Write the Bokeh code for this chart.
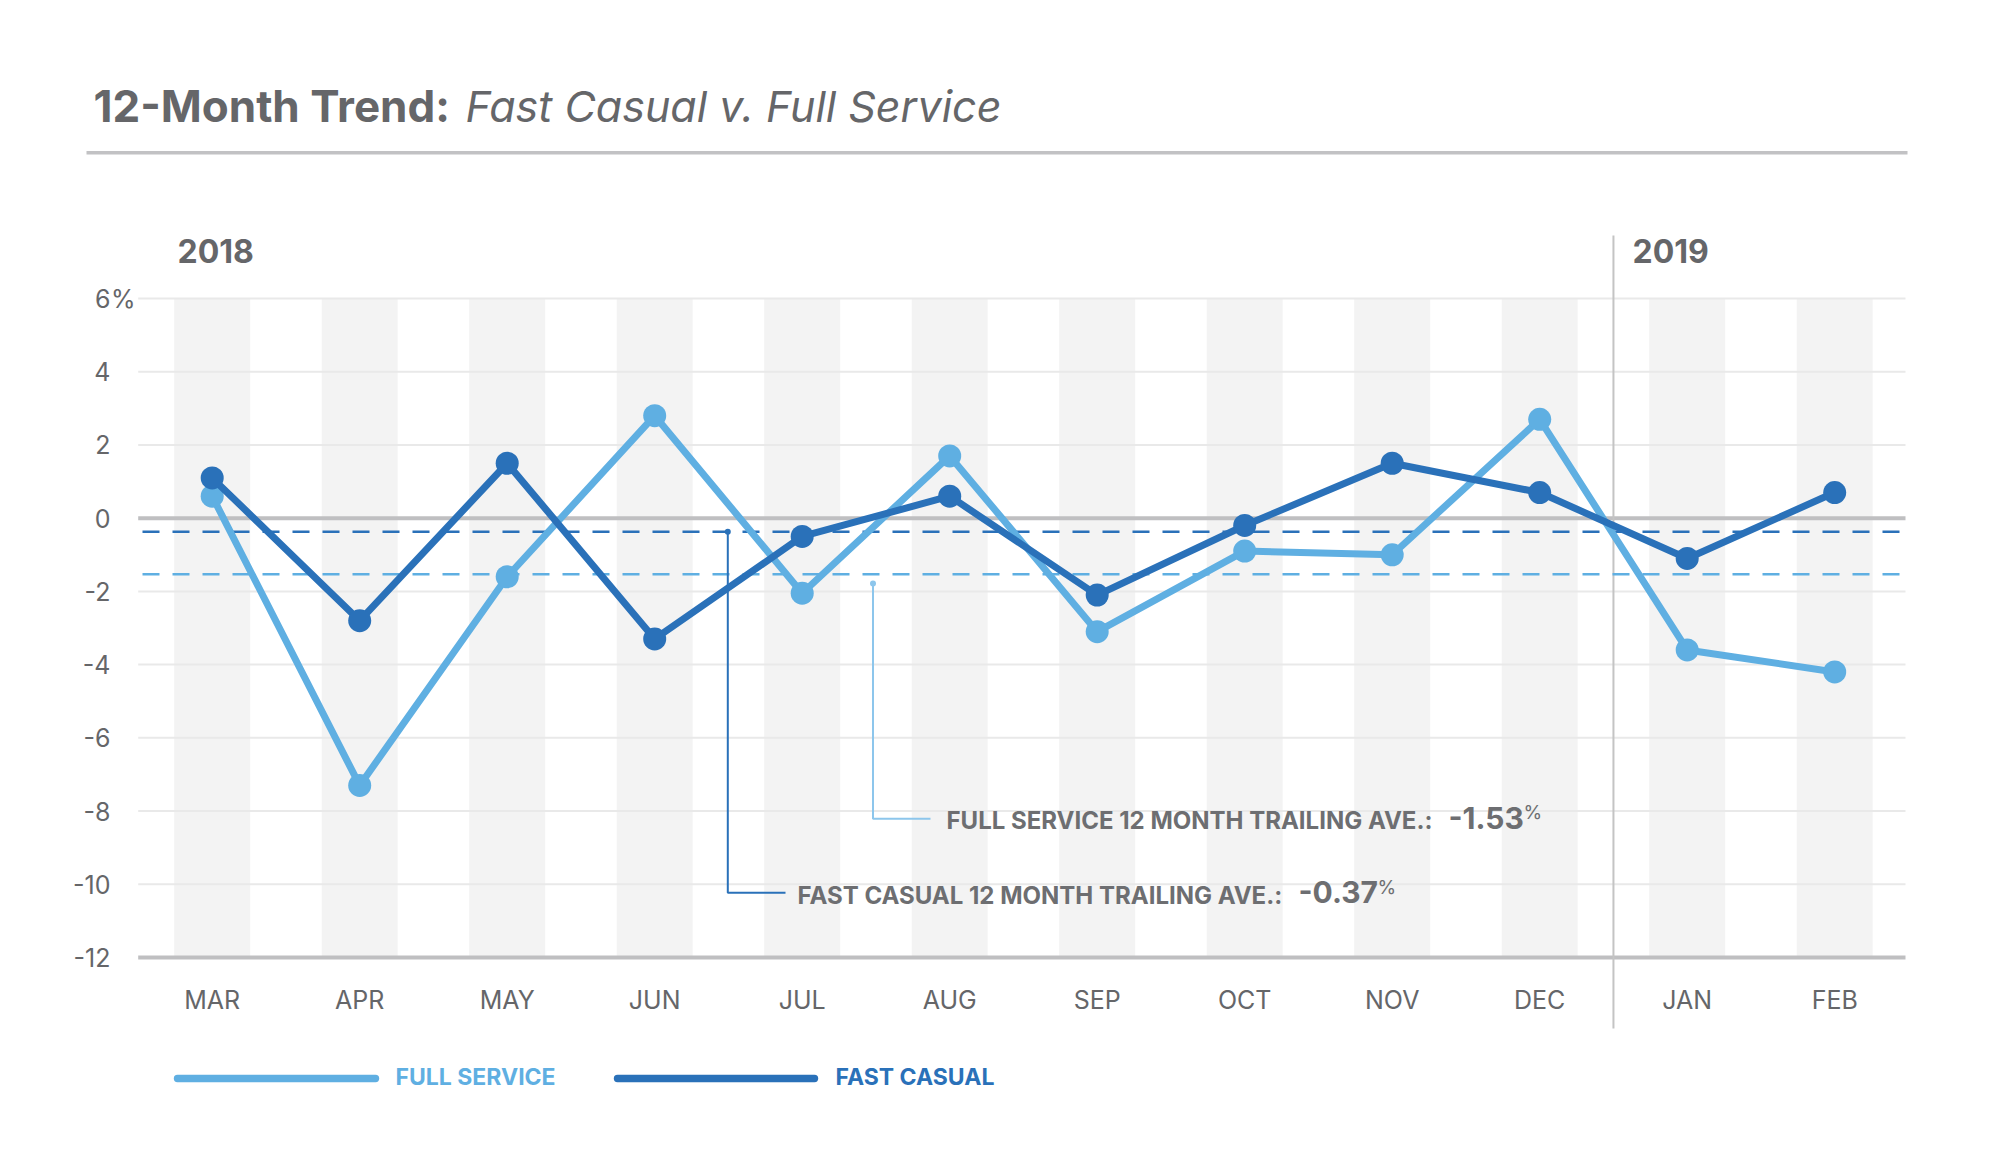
from bokeh.plotting import figure
from bokeh.models import Range1d, Label
from bokeh.core.properties import value
from bokeh.embed import file_html
from bokeh.resources import INLINE

# ---------------- data ----------------
MONTHS = ["MAR", "APR", "MAY", "JUN", "JUL", "AUG", "SEP", "OCT", "NOV", "DEC", "JAN", "FEB"]
FULL_SERVICE = [0.6, -7.3, -1.6, 2.8, -2.05, 1.7, -3.1, -0.9, -1.0, 2.7, -3.6, -4.2]
FAST_CASUAL = [1.1, -2.8, 1.5, -3.3, -0.5, 0.6, -2.1, -0.2, 1.5, 0.7, -1.1, 0.7]
FULL_AVG = -1.53
FAST_AVG = -0.37
Y_TICKS = [6, 4, 2, 0, -2, -4, -6, -8, -10, -12]
Y_TICK_LABELS = ["6", "4", "2", "0", "-2", "-4", "-6", "-8", "-10", "-12"]
YEARS = ["2018", "2019"]
SERIES_NAMES = ["FULL SERVICE", "FAST CASUAL"]

# ---------------- style / layout ----------------
FONT = "Inter"
LIGHT = "#5fafe2"
DARK = "#2a71b9"
LEADER_LIGHT = "#8dc6ec"
GREY_TXT = "#656669"
ANN_TXT = "#6d6e71"
GRID = "#e9e9e9"
AXIS_GREY = "#bfbfc1"
BAND = "#f3f3f3"

W, H = 1990, 1150
X0_PX, DX_PX = 211.7, 147.5          # pixel of first month, pixels per month
Y_TOP_PX, Y_BOT_PX = 298.0, 957.0    # pixel rows of top / bottom tick
YMIN, YMAX = min(Y_TICKS), max(Y_TICKS)
PX_PER_UNIT = (Y_BOT_PX - Y_TOP_PX) / (YMAX - YMIN)


def X(px):
    return (px - X0_PX) / DX_PX


def Y(py):
    return YMAX - (py - Y_TOP_PX) / PX_PER_UNIT


xs = list(range(len(MONTHS)))
GRID_L, GRID_R = X(137.7), X(1905)

p = figure(width=W, height=H, output_backend="svg", toolbar_location=None,
           x_range=Range1d(X(0), X(W)), y_range=Range1d(Y(H), Y(0)),
           x_axis_type=None, y_axis_type=None,
           min_border=0, min_border_left=0, min_border_right=0, min_border_top=0, min_border_bottom=0)
p.outline_line_color = None
p.background_fill_color = "white"
p.border_fill_color = "white"

# month bands
p.vbar(x=xs, width=0.515, top=YMAX, bottom=YMIN, fill_color=BAND, line_color=None)

# horizontal grid lines (zero and bottom are heavier)
g_col = [AXIS_GREY if t in (0, YMIN) else GRID for t in Y_TICKS]
g_w = [4 if t in (0, YMIN) else 2 for t in Y_TICKS]
p.segment(x0=GRID_L, x1=GRID_R, y0=Y_TICKS, y1=Y_TICKS, line_color=g_col, line_width=g_w)

# y tick labels
p.text(x=X(110), y=Y_TICKS, text=Y_TICK_LABELS, text_align="right", text_baseline="middle",
       text_font=value(FONT), text_font_size="25px", text_color=GREY_TXT)
p.text(x=X(110.5), y=[YMAX], text=["%"], text_align="left", text_baseline="middle",
       text_font=value(FONT), text_font_size="25px", text_color=GREY_TXT)

# month labels
p.text(x=xs, y=Y(999), text=MONTHS, text_align="center", text_baseline="middle",
       text_font=value(FONT), text_font_size="25px", text_color=GREY_TXT)

# year divider
div_x = MONTHS.index("JAN") - 0.5
p.segment(x0=div_x, x1=div_x, y0=Y(235), y1=Y(1028), line_color="#c4c4c4", line_width=2)

# average dashed lines
p.segment(x0=X(142), x1=GRID_R, y0=FAST_AVG, y1=FAST_AVG, line_color=DARK, line_width=2.5,
          line_dash="17 13")
p.segment(x0=X(142), x1=GRID_R, y0=FULL_AVG, y1=FULL_AVG, line_color=LIGHT, line_width=2.5,
          line_dash="17 13")

# leader lines
lx_dark = X(727.3)
p.line(x=[lx_dark, lx_dark, X(785)], y=[FAST_AVG, Y(892.3), Y(892.3)], line_color=DARK, line_width=2)
p.scatter(x=[lx_dark], y=[FAST_AVG], size=6, fill_color=DARK, line_color=None)
lx_light = X(872.5)
p.line(x=[lx_light, lx_light, X(930)], y=[Y(583), Y(818.3), Y(818.3)], line_color=LEADER_LIGHT, line_width=2)
p.scatter(x=[lx_light], y=[Y(583)], size=6, fill_color=LEADER_LIGHT, line_color=None)

# series
p.line(x=xs, y=FULL_SERVICE, line_color=LIGHT, line_width=7, line_join="round")
p.scatter(x=xs, y=FULL_SERVICE, size=23, fill_color=LIGHT, line_color=None)
p.line(x=xs, y=FAST_CASUAL, line_color=DARK, line_width=7, line_join="round")
p.scatter(x=xs, y=FAST_CASUAL, size=23, fill_color=DARK, line_color=None)


def label(px, py, text, size, color=GREY_TXT, style="normal", align="left"):
    p.add_layout(Label(x=X(px), y=Y(py), text=text, text_font=FONT, text_font_style=style,
                       text_font_size=f"{size}px", text_color=color, text_baseline="middle",
                       text_align=align))


# title + rule
label(93, 105, "12-Month Trend:", 44, style="bold")
label(465, 105, "Fast Casual v. Full Service", 43, style="italic")
p.segment(x0=X(86), x1=X(1907), y0=Y(152.3), y1=Y(152.3), line_color="#c2c2c4", line_width=3.5)

# year labels
label(177, 250.8, YEARS[0], 32, style="bold")
label(1632, 250.8, YEARS[1], 32, style="bold")

# average annotation texts
label(946, 820.2, f"{SERIES_NAMES[0]} 12 MONTH TRAILING AVE.:", 24, color=ANN_TXT, style="bold")
label(1448, 817, f"{FULL_AVG:.2f}", 30, color=ANN_TXT, style="bold")
label(1523, 812, "%", 19, color=ANN_TXT)
label(797, 894.5, f"{SERIES_NAMES[1]} 12 MONTH TRAILING AVE.:", 24, color=ANN_TXT, style="bold")
label(1298, 891.5, f"{FAST_AVG:.2f}", 30, color=ANN_TXT, style="bold")
label(1377, 886.5, "%", 19, color=ANN_TXT)

# legend
for (x0, x1, tx), name, col in zip([(177, 375, 395), (617, 814, 835)], SERIES_NAMES, [LIGHT, DARK]):
    p.segment(x0=X(x0), x1=X(x1), y0=Y(1078), y1=Y(1078), line_color=col, line_width=7.4, line_cap="round")
    label(tx, 1076, name, 23, color=col, style="bold")

open("out.html", "w").write(file_html(p, INLINE))
